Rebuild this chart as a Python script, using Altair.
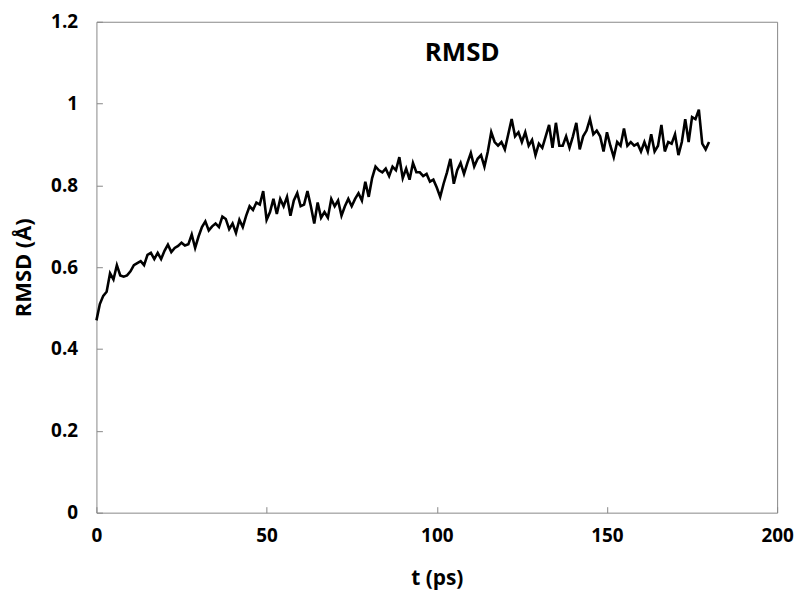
import altair as alt
import pandas as pd

# time (ps), 1 ps steps
t_ps = list(range(0, 181))
rmsd = [
    0.470, 0.510, 0.530, 0.540, 0.585, 0.570, 0.605, 0.580, 0.577, 0.580,
    0.590, 0.605, 0.610, 0.615, 0.605, 0.630, 0.635, 0.620, 0.635, 0.620,
    0.640, 0.655, 0.637, 0.647, 0.652, 0.660, 0.653, 0.656, 0.680, 0.647,
    0.675, 0.698, 0.712, 0.690, 0.700, 0.707, 0.698, 0.724, 0.718, 0.693,
    0.707, 0.684, 0.716, 0.698, 0.726, 0.749, 0.740, 0.758, 0.753, 0.786,
    0.716, 0.735, 0.767, 0.730, 0.767, 0.749, 0.772, 0.726, 0.763, 0.781,
    0.749, 0.753, 0.786, 0.749, 0.707, 0.758, 0.721, 0.735, 0.721, 0.767,
    0.749, 0.763, 0.726, 0.749, 0.767, 0.749, 0.767, 0.781, 0.763, 0.809,
    0.772, 0.818, 0.846, 0.837, 0.832, 0.841, 0.823, 0.846, 0.837, 0.869,
    0.818, 0.841, 0.814, 0.855, 0.832, 0.832, 0.823, 0.828, 0.809, 0.814,
    0.795, 0.772, 0.804, 0.832, 0.865, 0.804, 0.837, 0.855, 0.828, 0.855,
    0.879, 0.846, 0.865, 0.874, 0.846, 0.883, 0.930, 0.906, 0.897, 0.906,
    0.888, 0.925, 0.962, 0.920, 0.930, 0.906, 0.930, 0.897, 0.911, 0.874,
    0.902, 0.892, 0.920, 0.948, 0.892, 0.953, 0.897, 0.897, 0.920, 0.892,
    0.920, 0.953, 0.888, 0.920, 0.934, 0.962, 0.925, 0.934, 0.920, 0.883,
    0.930, 0.897, 0.869, 0.906, 0.897, 0.939, 0.897, 0.906, 0.897, 0.902,
    0.883, 0.906, 0.883, 0.925, 0.883, 0.897, 0.948, 0.883, 0.906, 0.902,
    0.925, 0.874, 0.906, 0.962, 0.906, 0.967, 0.962, 0.985, 0.902, 0.888,
    0.906,
]
x_ticks = [0, 50, 100, 150, 200]
y_ticks = [0, 0.2, 0.4, 0.6, 0.8, 1.0, 1.2]
chart_title = "RMSD"
x_title = "t (ps)"
y_title = "RMSD (Å)"

df = pd.DataFrame({"t": t_ps, "rmsd": rmsd})
FONT = "Open Sans"
GRAY = "#878787"

xs = alt.Scale(domain=[0, 200], nice=False, zero=True)
ys = alt.Scale(domain=[0, 1.2], nice=False, zero=True)

base = alt.Chart(df)

main = base.mark_line(color="black", strokeWidth=2.6).encode(
    x=alt.X("t:Q", scale=xs, axis=alt.Axis(
        values=x_ticks, title=x_title, orient="bottom", ticks=False, domain=False,
        grid=False, labelFont=FONT, labelFontSize=19, labelFontWeight="bold",
        labelColor="black", labelPadding=14, titleFont=FONT, titleFontSize=21,
        titleFontWeight="bold", titleColor="black", titlePadding=22,
        labelFlush=False)),
    y=alt.Y("rmsd:Q", scale=ys, axis=alt.Axis(
        values=y_ticks, title=y_title, orient="left", ticks=False, domain=False,
        grid=False, format=".2~f", labelFont=FONT, labelFontSize=19,
        labelFontWeight="bold", labelColor="black", labelPadding=19,
        titleFont=FONT, titleFontSize=22, titleFontWeight="bold",
        titleColor="black", titlePadding=15, labelFlush=False)),
)

ticks_layer = base.mark_line(opacity=0).encode(
    x=alt.X("t:Q", scale=xs, axis=alt.Axis(
        values=x_ticks, title=None, orient="bottom", labels=False, domain=False,
        grid=False, ticks=True, tickSize=6, tickColor=GRAY, offset=-6)),
    y=alt.Y("rmsd:Q", scale=ys, axis=alt.Axis(
        values=y_ticks, title=None, orient="left", labels=False, domain=False,
        grid=False, ticks=True, tickSize=6, tickColor=GRAY, offset=-6)),
)

title_layer = alt.Chart(pd.DataFrame({"label": [chart_title]})).mark_text(
    font=FONT, fontSize=26, fontWeight="bold", color="black",
    align="center", baseline="middle",
).encode(text="label:N", x=alt.value(368), y=alt.value(31))

chart = alt.layer(main, ticks_layer, title_layer).resolve_axis(
    x="independent", y="independent"
).properties(
    width=685, height=494, autosize="none",
    padding={"left": 89, "top": 12, "right": 20, "bottom": 78},
).configure_view(stroke=GRAY, strokeWidth=1)

chart.save("out.html", embed_options={"renderer": "svg", "actions": False})
